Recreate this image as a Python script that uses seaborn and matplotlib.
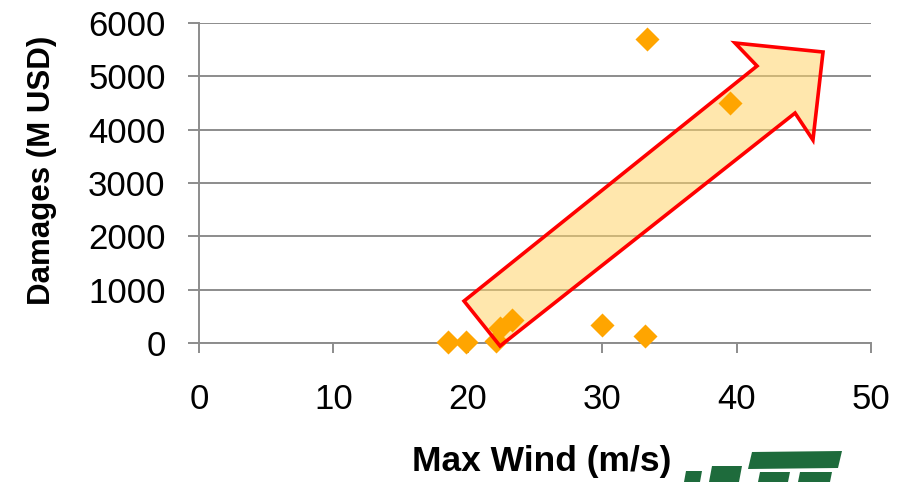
import matplotlib
matplotlib.use("Agg")
import matplotlib.pyplot as plt
import seaborn as sns
import pandas as pd
from matplotlib.patches import Polygon

# data
max_wind = [18.5, 19.9, 22.1, 22.4, 23.3, 30.0, 33.2, 33.3, 39.5]
damages = [20, 10, 30, 280, 430, 340, 130, 5700, 4500]
x_ticks = [0, 10, 20, 30, 40, 50]
y_ticks = [0, 1000, 2000, 3000, 4000, 5000, 6000]
# arrow outline (data coordinates)
arrow_x = [19.72, 22.40, 44.35, 45.68, 46.43, 39.88, 41.52]
arrow_y = [787, -56, 4312, 3806, 5456, 5625, 5194]

sns.set_theme(style="white")
plt.rcParams['font.family'] = ['Liberation Sans', 'DejaVu Sans']
plt.rcParams['text.color'] = 'black'
plt.rcParams['axes.labelcolor'] = 'black'
plt.rcParams['xtick.labelcolor'] = 'black'
plt.rcParams['ytick.labelcolor'] = 'black'

W, H = 906, 482
fig = plt.figure(figsize=(W/100, H/100), dpi=100)
ax = fig.add_axes([199/W, 1-343/H, (871-199)/W, 320/H])

df = pd.DataFrame({"wind": max_wind, "dmg": damages})
sns.scatterplot(data=df, x="wind", y="dmg", ax=ax, marker="D", s=150,
                color="#FFA500", linewidth=0, zorder=3, clip_on=False)

pts = list(zip(arrow_x, arrow_y))
ax.add_patch(Polygon(pts, closed=True, facecolor="#FFD56A", alpha=0.55,
                     edgecolor="none", zorder=2, clip_on=False))
ax.add_patch(Polygon(pts, closed=True, facecolor="none", edgecolor="#FF0000",
                     linewidth=2.6, joinstyle="miter", zorder=4, clip_on=False))

ax.set_xlim(0, 50)
ax.set_ylim(0, 6000)
ax.set_xticks(x_ticks)
ax.set_yticks(y_ticks)
ax.yaxis.grid(True, color="#8c8c8c", linewidth=1.4)
ax.set_axisbelow(True)
for s in ["top", "right"]:
    ax.spines[s].set_visible(False)
for s in ["left", "bottom"]:
    ax.spines[s].set_color("#8c8c8c")
    ax.spines[s].set_linewidth(1.4)
ax.tick_params(axis="x", direction="out", length=7.5, width=1.4, color="#8c8c8c",
               labelsize=25, pad=21, bottom=True)
ax.tick_params(axis="y", direction="out", length=8, width=1.4, color="#8c8c8c",
               labelsize=25, pad=16, left=True)

ax.set_xlabel("Max Wind (m/s)", fontsize=25.5, fontweight="bold")
ax.xaxis.set_label_coords((542-199)/672, (343-445)/320)
ax.set_ylabel("Damages (M USD)", fontsize=22.5, fontweight="bold")
ax.yaxis.set_label_coords((57-199)/672, (343-170)/320)

# partial green logo at bottom right (decoration, figure pixel coords)
def px(pxy):
    return [(x/W, 1-y/H) for x, y in pxy]

logo_shapes = [
    [(752, 452), (842, 451), (838, 468), (748, 469)],
    [(760, 472), (790, 472), (788, 482), (758, 482)],
    [(800, 472), (832, 472), (830, 482), (798, 482)],
    [(712, 466), (742, 466), (739, 482), (709, 482)],
    [(686, 471), (702, 471), (700, 482), (684, 482)],
]
for shp in logo_shapes:
    fig.patches.append(Polygon(px(shp), closed=True, facecolor="#1E6B3C",
                               edgecolor="none", transform=fig.transFigure))

fig.savefig("out.png", dpi=100)
